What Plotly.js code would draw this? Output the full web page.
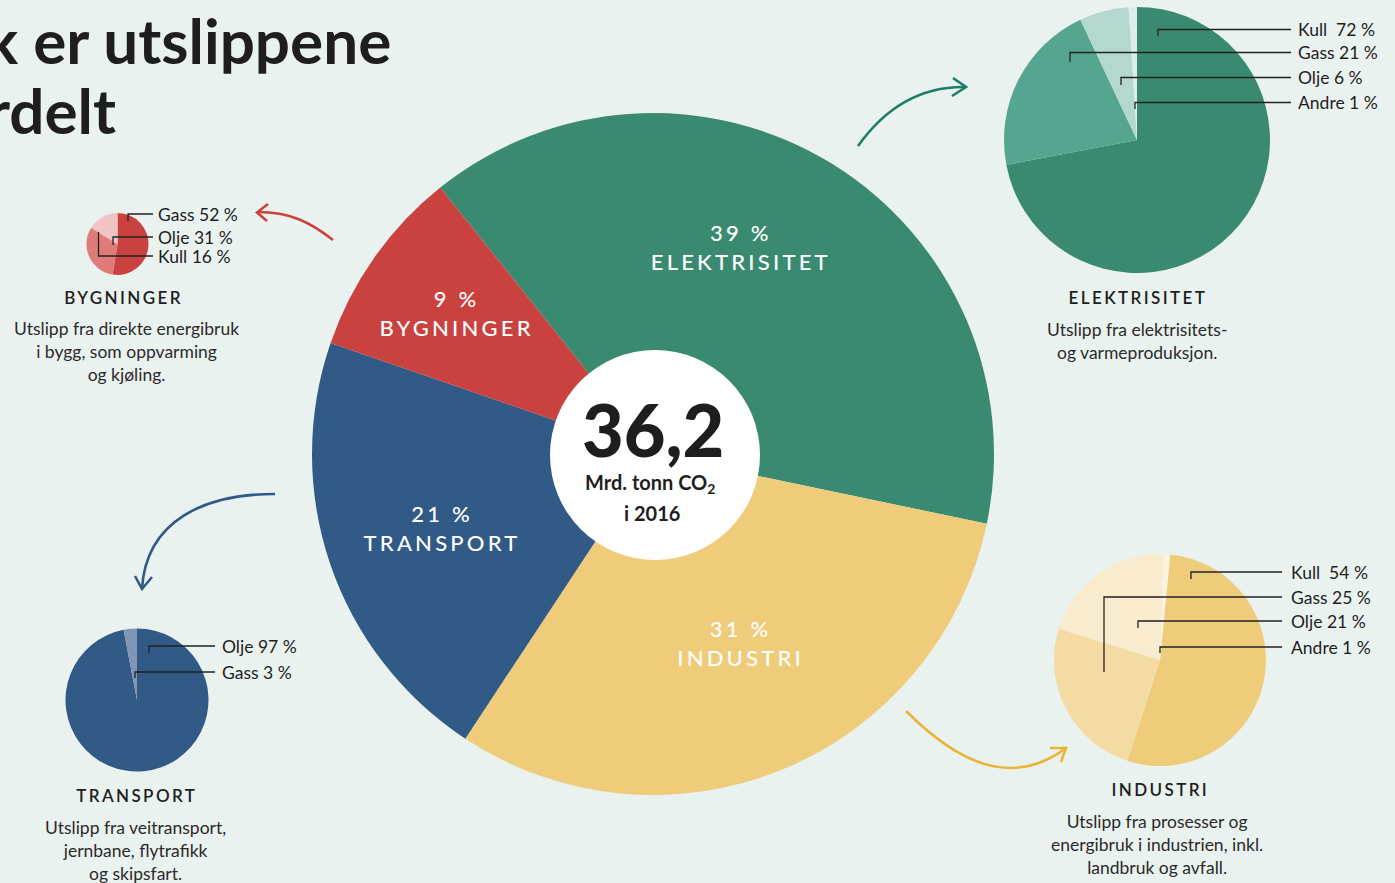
<!DOCTYPE html>
<html>
<head>
<meta charset="utf-8">
<script src="https://cdn.plot.ly/plotly-3.0.1.min.js"></script>
<style>
html,body{margin:0;padding:0;background:#EAF2F0;}
#chart{width:1395px;height:883px;}
</style>
</head>
<body>
<div id="chart"></div>
<script>
// ---------- DATA ----------
const mainLabels = ['ELEKTRISITET', 'INDUSTRI', 'TRANSPORT', 'BYGNINGER'];
const mainValues = [39, 31, 21, 9];
const totalValue = '36,2';
const totalUnit = 'Mrd. tonn CO<sub>2</sub>';
const totalYear = 'i 2016';

const elekLabels = ['Kull\u00a0', 'Gass', 'Olje', 'Andre'];
const elekValues = [72, 21, 6, 1];
const indLabels = ['Kull\u00a0', 'Gass', 'Olje', 'Andre'];
const indValues = [54, 25, 21, 1];
const bygLabels = ['Gass', 'Olje', 'Kull'];
const bygValues = [52, 31, 16];
const traLabels = ['Olje', 'Gass'];
const traValues = [97, 3];

const titleLines = ['k er utslippene', 'rdelt'];
const sectorHeadings = ['BYGNINGER', 'ELEKTRISITET', 'TRANSPORT', 'INDUSTRI'];
const sectorDescriptions = [
  'Utslipp fra direkte energibruk<br>i bygg, som oppvarming<br>og kjøling.',
  'Utslipp fra elektrisitets-<br>og varmeproduksjon.',
  'Utslipp fra veitransport,<br>jernbane, flytrafikk<br>og skipsfart.',
  'Utslipp fra prosesser og<br>energibruk i industrien, inkl.<br>landbruk og avfall.'
];

// ---------- STYLE / LAYOUT ----------
const W = 1395, H = 883;
const BG = '#EAF2F0';
const FONT = 'Lato, "Open Sans", sans-serif';
const INK = '#1e1e1e';
const mainColors = ['#3A8A72', '#EECC7A', '#315A86', '#C9423F'];
const elekColors = ['#3A8A72', '#56A590', '#B4D8CF', '#DDEEEA'];
const indColors = ['#EECC7A', '#F4DBA4', '#F8EBCE', '#FBF2DF'];
const bygColors = ['#C9423F', '#DF7C7A', '#F0C4C4'];
const traColors = ['#315A86', '#8195B6'];

function dom(cx, cy, r) {
  return {x: [(cx - r) / W, (cx + r) / W], y: [1 - (cy + r) / H, 1 - (cy - r) / H]};
}
function pie(values, labels, colors, d, rotation, hole) {
  return {
    type: 'pie', values: values, labels: labels, sort: false, direction: 'clockwise',
    rotation: rotation, hole: hole || 0, domain: d, textinfo: 'none', hoverinfo: 'none',
    marker: {colors: colors, line: {width: 0}}, showlegend: false
  };
}

const traces = [
  {type: 'scatter', x: [0], y: [0], mode: 'markers', marker: {opacity: 0}, hoverinfo: 'skip', showlegend: false},
  pie(mainValues, mainLabels, mainColors, dom(653, 454, 341), -38.6, 0.3),
  pie(elekValues, elekLabels, elekColors, dom(1137, 140, 133), 0),
  pie(indValues, indLabels, indColors, dom(1160, 660, 106), 5.5),
  pie(bygValues, bygLabels, bygColors, dom(117.5, 244, 31), 0),
  pie(traValues, traLabels, traColors, dom(137, 700, 71.5), 0)
];

const annotations = [];
const spaced = [];
function ann(x, y, text, o) {
  o = o || {};
  annotations.push({
    x: x, y: y, xref: 'x', yref: 'y', text: text, showarrow: false,
    xanchor: o.xanchor || 'center', yanchor: o.yanchor || 'middle', align: o.align || 'center',
    font: {family: FONT, size: o.size || 16, color: o.color || INK, weight: o.weight || 400}
  });
  if (o.ls) spaced.push([annotations.length - 1, o.ls]);
}

// Title (cropped at left)
ann(393, 40, titleLines[0], {xanchor: 'right', size: 62, weight: 700});
ann(118, 110, titleLines[1], {xanchor: 'right', size: 62, weight: 700});

// Main slice labels
const mainLabelPos = [[741, 247], [740, 643], [442, 528], [456, 313]];
mainLabels.forEach((l, i) => {
  ann(mainLabelPos[i][0], mainLabelPos[i][1], mainValues[i] + ' %<br>' + l,
      {size: 22, color: '#ffffff', weight: 500, ls: 3.2});
});

// Centre
ann(653, 429, totalValue, {size: 72, weight: 900});
ann(650, 483, totalUnit, {size: 20, weight: 700});
ann(652, 513, totalYear, {size: 20, weight: 700});

// Sub-pie labels with leader lines
const shapes = [];
function leaders(labels, values, leaderDefs, textX, fontSize) {
  labels.forEach((l, i) => {
    const [tx, ty, ly, ex] = leaderDefs[i];
    shapes.push({type: 'path', xref: 'x', yref: 'y',
      path: `M${tx},${ty} L${tx},${ly} L${ex},${ly}`,
      line: {color: '#222', width: 1.3}});
    ann(textX, ly, l + ' ' + values[i] + ' %', {xanchor: 'left', size: fontSize, align: 'left'});
  });
}
leaders(elekLabels, elekValues, [[1158, 36, 29.5, 1291], [1070, 62, 52.5, 1291], [1121, 85, 77.5, 1291], [1135, 109, 102.5, 1291]], 1296, 17.5);
leaders(indLabels, indValues, [[1191, 579, 572, 1282], [1104, 672, 597, 1282], [1138, 628, 621, 1282], [1160, 653, 647, 1282]], 1289, 17.5);
leaders(bygLabels, bygValues, [[128, 221, 214, 153], [113, 245, 237, 153], [98.5, 232, 256, 153]], 156, 17.5);
leaders(traLabels, traValues, [[149, 653, 646, 215], [135, 678, 672, 215]], 220, 17.5);

// Sector headings & descriptions
const headPos = [[123, 297], [1138, 297], [137, 795], [1160, 789]];
const descPos = [[126, 351], [1137, 341], [135, 850], [1157, 844]];
sectorHeadings.forEach((h, i) => {
  ann(headPos[i][0], headPos[i][1], h, {size: 17, weight: 600, ls: 2.4});
  ann(descPos[i][0], descPos[i][1], sectorDescriptions[i], {size: 17.5, color: '#2a2a2a'});
});

// Centre white disc
shapes.unshift({type: 'circle', xref: 'x', yref: 'y', x0: 550, x1: 760, y0: 350, y1: 560,
  fillcolor: '#ffffff', line: {width: 0}, layer: 'above'});

// Arrows
function arrow(path, head, color) {
  shapes.push({type: 'path', xref: 'x', yref: 'y', path: path, line: {color: color, width: 2.6}});
  shapes.push({type: 'path', xref: 'x', yref: 'y', path: head, line: {color: color, width: 2.6}});
}
arrow('M858,146 C885,108 920,86 966,87', 'M953,78 L966,87 L952,96', '#1A7F66');
arrow('M333,240 C310,222 290,212 258,212', 'M268,204 L257,212.5 L267,221', '#C9423F');
arrow('M275,494 C205,494 146,520 142,589', 'M135,576 L142,589 L152,577', '#315A86');
arrow('M906,711 C955,760 1010,790 1066,748', 'M1050,748 L1066,748 L1061,762', '#E9B537');

const layout = {
  width: W, height: H, margin: {l: 0, r: 0, t: 0, b: 0},
  paper_bgcolor: BG, plot_bgcolor: 'rgba(0,0,0,0)',
  xaxis: {range: [0, W], visible: false, fixedrange: true, domain: [0, 1]},
  yaxis: {range: [H, 0], visible: false, fixedrange: true, domain: [0, 1]},
  shapes: shapes, annotations: annotations, showlegend: false
};

// letter spacing for spaced-out labels
const css = spaced.map(([i, ls]) => `g.annotation[data-index="${i}"] text{letter-spacing:${ls}px;}`).join('\n');
const st = document.createElement('style'); st.textContent = css; document.head.appendChild(st);

Plotly.newPlot('chart', traces, layout, {displayModeBar: false, staticPlot: true});
</script>
</body>
</html>
